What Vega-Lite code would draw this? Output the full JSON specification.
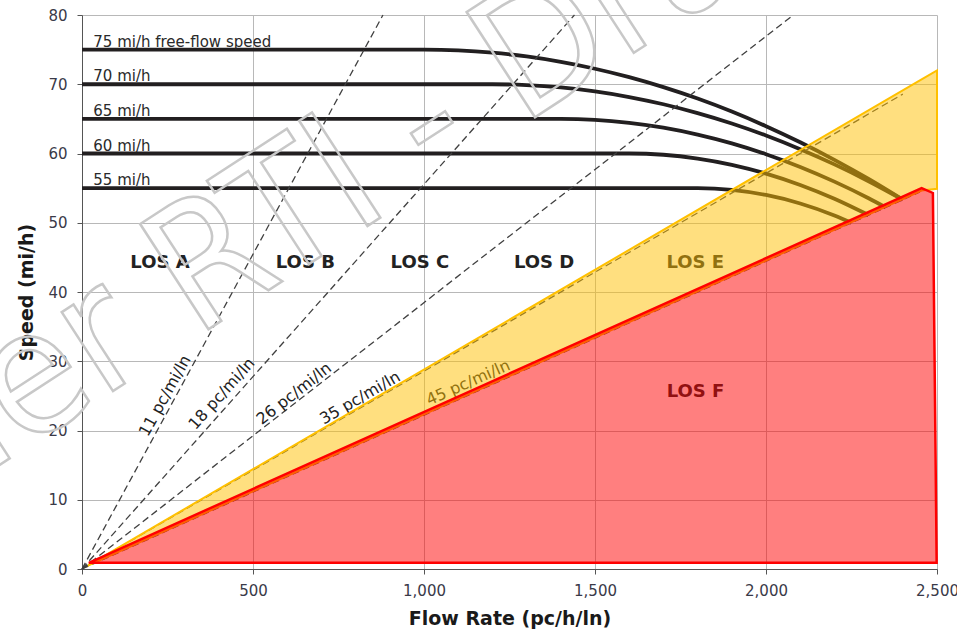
{
  "$schema": "https://vega.github.io/schema/vega-lite/v6.json",
  "width": 855,
  "height": 554,
  "autosize": {"type": "none"},
  "padding": {"left": 82, "top": 15, "right": 20, "bottom": 67},
  "background": "white",
  "config": {
    "view": {"stroke": null},
    "font": "DejaVu Sans",
    "axis": {
      "labelFont": "DejaVu Sans",
      "labelFontSize": 15,
      "labelColor": "#3a3a48",
      "titleFont": "DejaVu Sans",
      "titleFontSize": 19,
      "titleFontWeight": "bold",
      "titleColor": "#1a1a1a",
      "gridColor": "#b8b8b8",
      "gridWidth": 1,
      "domainColor": "#555555",
      "tickColor": "#555555",
      "tickSize": 5,
      "labelFlush": false,
      "labelOverlap": false
    }
  },
  "datasets": {
    "curves": [
      {"ffs": 75, "flow": 0, "speed": 75}, {"ffs": 75, "flow": 1000, "speed": 75}, {"ffs": 75, "flow": 1100, "speed": 74.89}, {"ffs": 75, "flow": 1200, "speed": 74.56}, {"ffs": 75, "flow": 1300, "speed": 74.01}, {"ffs": 75, "flow": 1400, "speed": 73.23}, {"ffs": 75, "flow": 1500, "speed": 72.24}, {"ffs": 75, "flow": 1600, "speed": 71.02}, {"ffs": 75, "flow": 1700, "speed": 69.58}, {"ffs": 75, "flow": 1800, "speed": 67.93}, {"ffs": 75, "flow": 1900, "speed": 66.05}, {"ffs": 75, "flow": 2000, "speed": 63.94}, {"ffs": 75, "flow": 2100, "speed": 61.62}, {"ffs": 75, "flow": 2200, "speed": 59.08}, {"ffs": 75, "flow": 2300, "speed": 56.32}, {"ffs": 75, "flow": 2400, "speed": 53.33},
      {"ffs": 70, "flow": 0, "speed": 70}, {"ffs": 70, "flow": 1200, "speed": 70}, {"ffs": 70, "flow": 1300, "speed": 69.88}, {"ffs": 70, "flow": 1400, "speed": 69.54}, {"ffs": 70, "flow": 1500, "speed": 68.96}, {"ffs": 70, "flow": 1600, "speed": 68.15}, {"ffs": 70, "flow": 1700, "speed": 67.11}, {"ffs": 70, "flow": 1800, "speed": 65.83}, {"ffs": 70, "flow": 1900, "speed": 64.33}, {"ffs": 70, "flow": 2000, "speed": 62.59}, {"ffs": 70, "flow": 2100, "speed": 60.62}, {"ffs": 70, "flow": 2200, "speed": 58.43}, {"ffs": 70, "flow": 2300, "speed": 56.0}, {"ffs": 70, "flow": 2400, "speed": 53.33},
      {"ffs": 65, "flow": 0, "speed": 65}, {"ffs": 65, "flow": 1400, "speed": 65}, {"ffs": 65, "flow": 1500, "speed": 64.86}, {"ffs": 65, "flow": 1600, "speed": 64.43}, {"ffs": 65, "flow": 1700, "speed": 63.73}, {"ffs": 65, "flow": 1800, "speed": 62.73}, {"ffs": 65, "flow": 1900, "speed": 61.46}, {"ffs": 65, "flow": 2000, "speed": 59.9}, {"ffs": 65, "flow": 2100, "speed": 58.06}, {"ffs": 65, "flow": 2200, "speed": 55.94}, {"ffs": 65, "flow": 2300, "speed": 53.54}, {"ffs": 65, "flow": 2350, "speed": 52.22},
      {"ffs": 60, "flow": 0, "speed": 60}, {"ffs": 60, "flow": 1600, "speed": 60}, {"ffs": 60, "flow": 1700, "speed": 59.82}, {"ffs": 60, "flow": 1800, "speed": 59.27}, {"ffs": 60, "flow": 1900, "speed": 58.37}, {"ffs": 60, "flow": 2000, "speed": 57.1}, {"ffs": 60, "flow": 2100, "speed": 55.46}, {"ffs": 60, "flow": 2200, "speed": 53.47}, {"ffs": 60, "flow": 2300, "speed": 51.11},
      {"ffs": 55, "flow": 0, "speed": 55}, {"ffs": 55, "flow": 1800, "speed": 55}, {"ffs": 55, "flow": 1900, "speed": 54.75}, {"ffs": 55, "flow": 2000, "speed": 54.01}, {"ffs": 55, "flow": 2100, "speed": 52.78}, {"ffs": 55, "flow": 2200, "speed": 51.05}, {"ffs": 55, "flow": 2250, "speed": 50.0}
    ],
    "curveLabels": [
      {"flow": 33, "speed": 75, "label": "75 mi/h free-flow speed"},
      {"flow": 33, "speed": 70, "label": "70 mi/h"},
      {"flow": 33, "speed": 65, "label": "65 mi/h"},
      {"flow": 33, "speed": 60, "label": "60 mi/h"},
      {"flow": 33, "speed": 55, "label": "55 mi/h"}
    ],
    "density": [
      {"k": 11, "flow": 0, "speed": 0}, {"k": 11, "flow": 880, "speed": 80},
      {"k": 18, "flow": 0, "speed": 0}, {"k": 18, "flow": 1440, "speed": 80},
      {"k": 26, "flow": 0, "speed": 0}, {"k": 26, "flow": 2080, "speed": 80},
      {"k": 35, "flow": 0, "speed": 0}, {"k": 35, "flow": 2400, "speed": 68.57},
      {"k": 45, "flow": 0, "speed": 0}, {"k": 45, "flow": 2450, "speed": 54.44}
    ],
    "densityLabels": [
      {"k": 11, "flow": 243, "speed": 25.0, "label": "11 pc/mi/ln"},
      {"k": 18, "flow": 409, "speed": 25.3, "label": "18 pc/mi/ln"},
      {"k": 26, "flow": 620, "speed": 25.3, "label": "26 pc/mi/ln"},
      {"k": 35, "flow": 813, "speed": 24.7, "label": "35 pc/mi/ln"},
      {"k": 45, "flow": 1129, "speed": 26.9, "label": "45 pc/mi/ln"}
    ],
    "los": [
      {"flow": 228, "speed": 43.5, "label": "LOS A"},
      {"flow": 653, "speed": 43.5, "label": "LOS B"},
      {"flow": 988, "speed": 43.5, "label": "LOS C"},
      {"flow": 1351, "speed": 43.5, "label": "LOS D"},
      {"flow": 1793, "speed": 43.5, "label": "LOS E"},
      {"flow": 1794, "speed": 24.9, "label": "LOS F"}
    ],
    "zoneE": [
      {"flow": 20, "speed": 0.6, "speed2": 0.55},
      {"flow": 2455, "speed": 70.7, "speed2": 54.65},
      {"flow": 2500, "speed": 72.0, "speed2": 54.9}
    ],
    "zoneF": [
      {"flow": 20, "speed": 0.9, "speed2": 0.9},
      {"flow": 2455, "speed": 55.0, "speed2": 0.9},
      {"flow": 2488, "speed": 54.3, "speed2": 0.9},
      {"flow": 2499, "speed": 0.9, "speed2": 0.9}
    ],
    "watermark": [
      {"flow": 570, "speed": 50.0, "label": "Under RTI - Draft"}
    ]
  },
  "encoding": {
    "x": {
      "field": "flow", "type": "quantitative",
      "scale": {"domain": [0, 2500], "nice": false, "zero": true},
      "axis": {"values": [0, 500, 1000, 1500, 2000, 2500], "format": ",d", "title": "Flow Rate (pc/h/ln)", "labelPadding": 9, "titlePadding": 11}
    },
    "y": {
      "field": "speed", "type": "quantitative",
      "scale": {"domain": [0, 80], "nice": false},
      "axis": {"values": [0, 10, 20, 30, 40, 50, 60, 70, 80], "title": "Speed (mi/h)", "labelPadding": 10, "titlePadding": 11}
    }
  },
  "layer": [
    {
      "data": {"name": "curves"},
      "mark": {"type": "line", "color": "#221f20", "strokeWidth": 3.8, "interpolate": "monotone"},
      "encoding": {"detail": {"field": "ffs"}}
    },
    {
      "data": {"name": "curveLabels"},
      "mark": {"type": "text", "align": "left", "baseline": "alphabetic", "dy": -3, "fontSize": 15, "color": "#2a2a2a"},
      "encoding": {"text": {"field": "label"}}
    },
    {
      "data": {"name": "density"},
      "mark": {"type": "line", "color": "#404040", "strokeWidth": 1.3, "strokeDash": [7, 4]},
      "encoding": {"detail": {"field": "k"}}
    },
    {
      "data": {"name": "densityLabels"},
      "transform": [{"filter": "datum.k == 11"}],
      "mark": {"type": "text", "angle": -61, "fontSize": 16, "color": "#222222"},
      "encoding": {"text": {"field": "label"}}
    },
    {
      "data": {"name": "densityLabels"},
      "transform": [{"filter": "datum.k == 18"}],
      "mark": {"type": "text", "angle": -48, "fontSize": 16, "color": "#222222"},
      "encoding": {"text": {"field": "label"}}
    },
    {
      "data": {"name": "densityLabels"},
      "transform": [{"filter": "datum.k == 26"}],
      "mark": {"type": "text", "angle": -38, "fontSize": 16, "color": "#222222"},
      "encoding": {"text": {"field": "label"}}
    },
    {
      "data": {"name": "densityLabels"},
      "transform": [{"filter": "datum.k == 35"}],
      "mark": {"type": "text", "angle": -30, "fontSize": 16, "color": "#222222"},
      "encoding": {"text": {"field": "label"}}
    },
    {
      "data": {"name": "densityLabels"},
      "transform": [{"filter": "datum.k == 45"}],
      "mark": {"type": "text", "angle": -24, "fontSize": 16, "color": "#222222"},
      "encoding": {"text": {"field": "label"}}
    },
    {
      "data": {"name": "los"},
      "mark": {"type": "text", "align": "center", "baseline": "alphabetic", "fontSize": 18, "fontWeight": "bold", "color": "#222222"},
      "encoding": {"text": {"field": "label"}}
    },
    {
      "data": {"name": "zoneE"},
      "mark": {"type": "area", "fill": "#FFC000", "fillOpacity": 0.5, "stroke": "#FFC000", "strokeWidth": 2, "strokeOpacity": 1},
      "encoding": {"y2": {"field": "speed2"}}
    },
    {
      "data": {"name": "zoneF"},
      "mark": {"type": "area", "fill": "#FF0000", "fillOpacity": 0.5, "stroke": "#FF0000", "strokeWidth": 2.5, "strokeOpacity": 1},
      "encoding": {"y2": {"field": "speed2"}}
    },
    {
      "data": {"name": "watermark"},
      "mark": {"type": "text", "angle": -33, "fontSize": 172, "font": "Liberation Sans Narrow, DejaVu Sans Condensed, Liberation Sans", "align": "center", "baseline": "middle", "fill": "transparent", "stroke": "#c8c8c8", "strokeWidth": 2.5},
      "encoding": {"text": {"field": "label"}}
    }
  ]
}
